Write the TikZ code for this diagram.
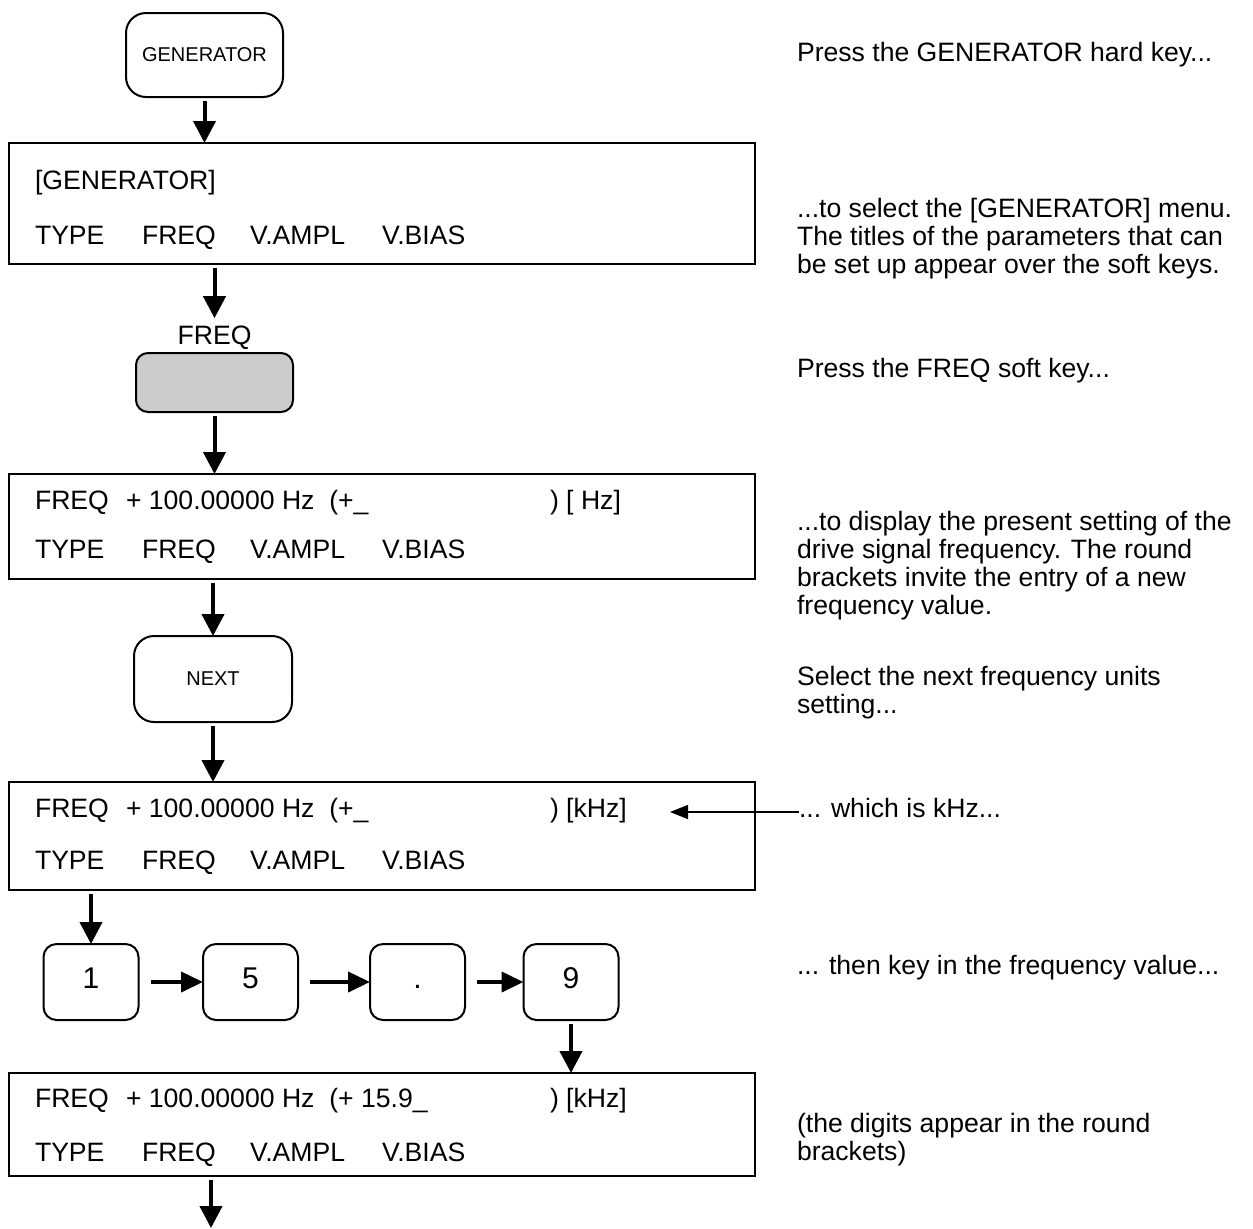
\documentclass[tikz,border=0pt]{standalone}
\usepackage{fontspec}
\setmainfont{Liberation Sans}
\usetikzlibrary{arrows.meta}
\begin{document}
\begin{tikzpicture}[x=0.5pt,y=-0.5pt,
  every node/.style={inner sep=0pt, outer sep=0pt},
  disp/.style={draw, line width=1pt, minimum width=373pt},
  keybox/.style={draw, line width=1pt, rounded corners=10pt, font=\fontsize{10}{12}\selectfont},
  digit/.style={draw, line width=1pt, rounded corners=6.5pt, minimum width=47.5pt, minimum height=38pt, font=\fontsize{15}{18}\selectfont, text height=0.6em, text depth=0pt},
  lbl/.style={font=\fontsize{13.3}{14}\selectfont, anchor=base west},
  note/.style={font=\fontsize{13.3}{14}\selectfont, anchor=base west, align=left},
  arr/.style={line width=2pt, -{Triangle[length=11pt,width=11pt]}, shorten <=2pt},
  harr/.style={line width=2pt, -{Triangle[length=11pt,width=10pt]}, shorten <=6pt},
  thinarr/.style={line width=0.75pt, -{Triangle[length=9pt,width=7pt]}}
]
\useasboundingbox (0,0) rectangle (1253,1228);

% keys and displays
\node[keybox, minimum width=78.5pt, minimum height=42pt] (gen) at (204.5,55) {GENERATOR};
\node[disp, minimum height=60.5pt] (d1) at (382,203.5) {};
\node[font=\fontsize{13.3}{14}\selectfont] (fl) at (214.5,338) {FREQ};
\node[draw, line width=1pt, rounded corners=6pt, fill=black!20, minimum width=78.5pt, minimum height=29.5pt] (fk) at (214.5,382.5) {};
\node[disp, minimum height=52.5pt] (d2) at (382,526.5) {};
\node[keybox, minimum width=79pt, minimum height=43pt] (nx) at (213,679) {NEXT};
\node[disp, minimum height=54pt] (d3) at (382,836) {};
\node[digit] (k1) at (91,982) {1};
\node[digit] (k5) at (250.5,982) {5};
\node[digit] (kd) at (417.5,982) {.};
\node[digit] (k9) at (571,982) {9};
\node[disp, minimum height=51.5pt] (d4) at (382,1124.5) {};
\coordinate (end) at (211,1228);

% display texts
\node[lbl] (t1a) at (35,189) {[GENERATOR]};
\node[lbl] (t1b) at (35,244) {TYPE};
\node[lbl] (t1c) at (142,244) {FREQ};
\node[lbl] (t1d) at (250,244) {V.AMPL};
\node[lbl] (t1e) at (382,244) {V.BIAS};

\node[lbl] (t2a) at (35,509) {FREQ};
\node[lbl] (t2b) at (126,509) {+ 100.00000 Hz~ (+\_};
\node[lbl] (t2c) at (550,509) {) [ Hz]};
\node[lbl] (t2d) at (35,558) {TYPE};
\node[lbl] (t2e) at (142,558) {FREQ};
\node[lbl] (t2f) at (250,558) {V.AMPL};
\node[lbl] (t2g) at (382,558) {V.BIAS};

\node[lbl] (t3a) at (35,817) {FREQ};
\node[lbl] (t3b) at (126,817) {+ 100.00000 Hz~ (+\_};
\node[lbl] (t3c) at (550,817) {) [kHz]};
\node[lbl] (t3d) at (35,869) {TYPE};
\node[lbl] (t3e) at (142,869) {FREQ};
\node[lbl] (t3f) at (250,869) {V.AMPL};
\node[lbl] (t3g) at (382,869) {V.BIAS};

\node[lbl] (t4a) at (35,1107) {FREQ};
\node[lbl] (t4b) at (126,1107) {+ 100.00000 Hz~ (+ 15.9\_};
\node[lbl] (t4c) at (550,1107) {) [kHz]};
\node[lbl] (t4d) at (35,1161) {TYPE};
\node[lbl] (t4e) at (142,1161) {FREQ};
\node[lbl] (t4f) at (250,1161) {V.AMPL};
\node[lbl] (t4g) at (382,1161) {V.BIAS};

% notes (base anchor = last line)
\node[note] (n1) at (797,61) {Press the GENERATOR hard key...};
\node[note] (n2) at (797,273) {...to select the [GENERATOR] menu.\\The titles of the parameters that can\\be set up appear over the soft keys.};
\node[note] (n3) at (797,377) {Press the FREQ soft key...};
\node[note] (n4) at (797,614) {...to display the present setting of the\\drive signal frequency. The round\\brackets invite the entry of a new\\frequency value.};
\node[note] (n5) at (797,713) {Select the next frequency units\\setting...};
\node[note] (n6) at (799,817) {... which is kHz...};
\node[note] (n7) at (797,974) {... then key in the frequency value...};
\node[note] (n8) at (797,1160) {(the digits appear in the round\\brackets)};
\coordinate (khz) at (670,812);

% connectors
\draw[arr] (gen.south) -- (gen.south |- d1.north);
\draw[arr] (d1.south -| fl) -- ([yshift=4pt]fl.north);
\draw[arr] (fk.south) -- (fk.south |- d2.north);
\draw[arr] (d2.south -| nx) -- (nx.north);
\draw[arr] (nx.south) -- (nx.south |- d3.north);
\draw[arr] (d3.south -| k1) -- (k1.north);
\draw[harr] (k1.east) -- (k5.west);
\draw[harr] (k5.east) -- (kd.west);
\draw[harr] (kd.east) -- (k9.west);
\draw[arr] (k9.south) -- (k9.south |- d4.north);
\draw[arr] (d4.south -| end) -- (end);
\draw[thinarr] (n6.west |- khz) -- (khz);
\end{tikzpicture}
\end{document}
